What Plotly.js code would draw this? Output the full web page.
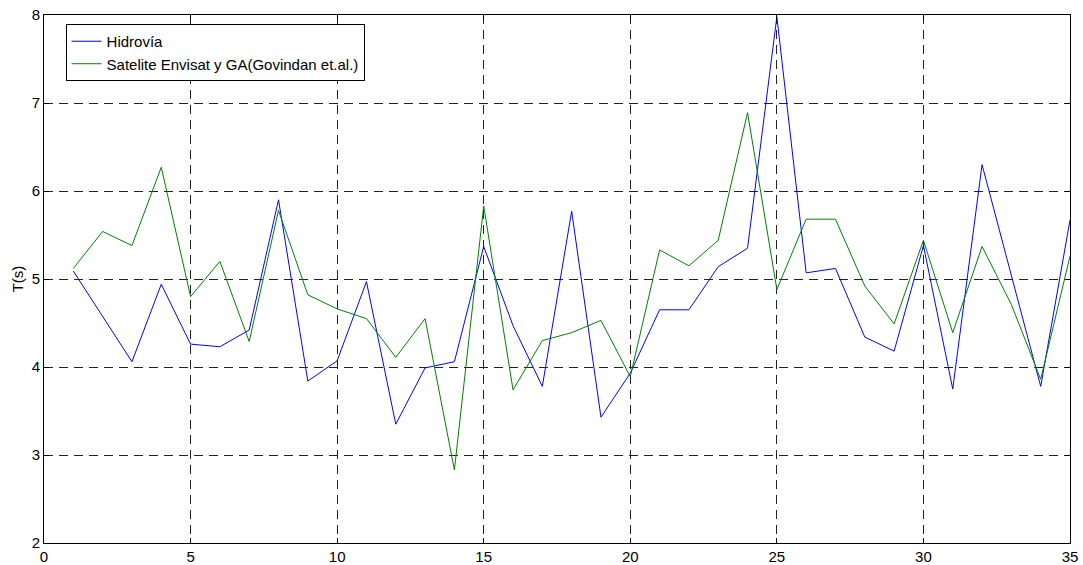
<!DOCTYPE html>
<html>
<head>
<meta charset="utf-8">
<script src="https://cdn.plot.ly/plotly-3.0.1.min.js"></script>
<style>html,body{margin:0;padding:0;background:#fff}#chart{width:1083px;height:565px}</style>
</head>
<body>
<div id="chart"></div>
<script>
var xValues = [1,2,3,4,5,6,7,8,9,10,11,12,13,14,15,16,17,18,19,20,21,22,23,24,25,26,27,28,29,30,31,32,33,34,35];
var hidrovia = [5.09,4.58,4.06,4.94,4.26,4.23,4.42,5.90,3.84,4.07,4.97,3.35,3.99,4.06,5.37,4.47,3.78,5.77,3.43,3.93,4.65,4.65,5.14,5.35,7.98,5.07,5.12,4.34,4.18,5.38,3.75,6.30,5.05,3.78,5.67];
var satelite = [5.12,5.54,5.38,6.27,4.80,5.20,4.29,5.78,4.82,4.66,4.55,4.11,4.55,2.83,5.83,3.74,4.30,4.39,4.53,3.89,5.33,5.15,5.44,6.89,4.88,5.68,5.68,4.92,4.49,5.44,4.39,5.37,4.71,3.86,5.26];
var seriesNames = ["Hidrovía", "Satelite Envisat y GA(Govindan et.al.)"];
var xTicks = [0,5,10,15,20,25,30,35];
var yTicks = [2,3,4,5,6,7,8];

var FONT = 'Liberation Sans, Arial, sans-serif';

var traces = [
  {x: xValues, y: hidrovia, name: seriesNames[0], mode: 'lines', line: {color: '#0000ff', width: 1}},
  {x: xValues, y: satelite, name: seriesNames[1], mode: 'lines', line: {color: '#008000', width: 1}}
];

var axisCommon = {
  showline: true, linecolor: '#000', linewidth: 1, mirror: 'ticks',
  ticks: 'inside', ticklen: 5, tickcolor: '#000', tickwidth: 1,
  showgrid: true, gridcolor: '#222', gridwidth: 1, griddash: '9px,6px',
  zeroline: false, tickfont: {family: FONT, size: 15, color: '#000'}
};

var layout = {
  width: 1083, height: 565,
  margin: {l: 44, r: 13, t: 15, b: 22},
  paper_bgcolor: '#fff', plot_bgcolor: '#fff',
  showlegend: true,
  xaxis: Object.assign({}, axisCommon, {range: [0, 35], tickvals: xTicks, ticktext: xTicks.map(String), ticklabelstandoff: 0}),
  yaxis: Object.assign({}, axisCommon, {range: [2, 8], tickvals: yTicks, ticktext: yTicks.map(String), ticklabelstandoff: 0,
    title: {text: 'T(s)', font: {family: FONT, size: 15, color: '#000'}, standoff: 4}}),
  legend: {x: 0.021, y: 0.983, xanchor: 'left', yanchor: 'top', bgcolor: '#fff', bordercolor: '#000', borderwidth: 1,
    font: {family: FONT, size: 15, color: '#000'}, tracegroupgap: 0}
};

Plotly.newPlot('chart', traces, layout, {staticPlot: true, displayModeBar: false});
</script>
</body>
</html>
